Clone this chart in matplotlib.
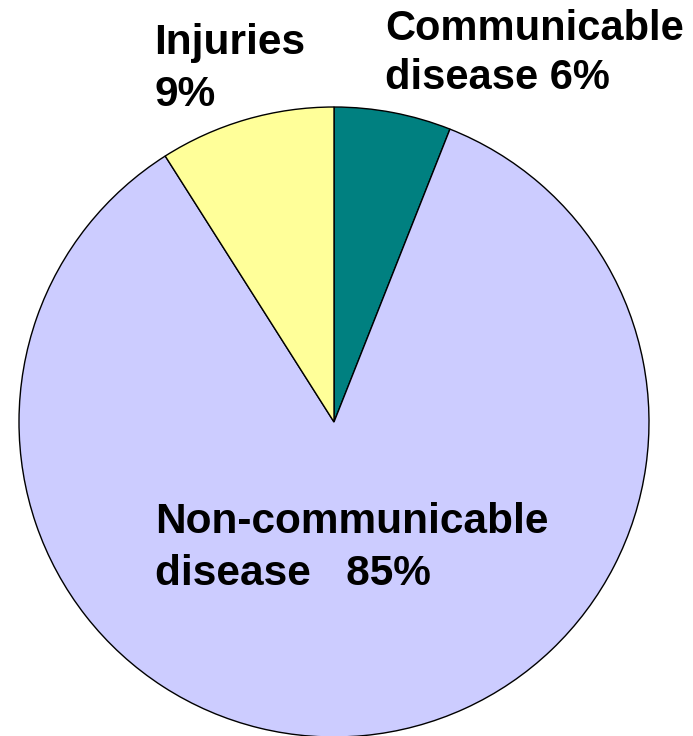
import matplotlib
matplotlib.use("Agg")
import matplotlib.pyplot as plt

# data, clockwise from 12 o'clock
labels = ["Communicable\ndisease 6%", "Non-communicable\ndisease   85%", "Injuries\n9%"]
shares = [6, 85, 9]
colors = ["#008080", "#CCCCFF", "#FFFF99"]

W, H = 693, 736
fig = plt.figure(figsize=(W / 100, H / 100), dpi=100)
ax = fig.add_axes([0, 0, 1, 1])

# pie in pixel units (y up)
ax.pie(shares, colors=colors, startangle=90, counterclock=False,
       center=(334, H - 422), radius=315, frame=True,
       wedgeprops=dict(edgecolor="black", linewidth=1.0))
ax.set_xlim(0, W)
ax.set_ylim(0, H)
ax.axis("off")

font = dict(family="Liberation Sans", weight="bold", ha="left", va="top")
# label anchors (top-left of text, pixels from top)
ax.text(385, H - 9, labels[0], fontsize=30, linespacing=1.3, **font)
ax.text(155, H - 502, labels[1], fontsize=30.5, linespacing=1.38, **font)
ax.text(154, H - 23, labels[2], fontsize=30.5, linespacing=1.4, **font)

fig.savefig("out.png", dpi=100)
